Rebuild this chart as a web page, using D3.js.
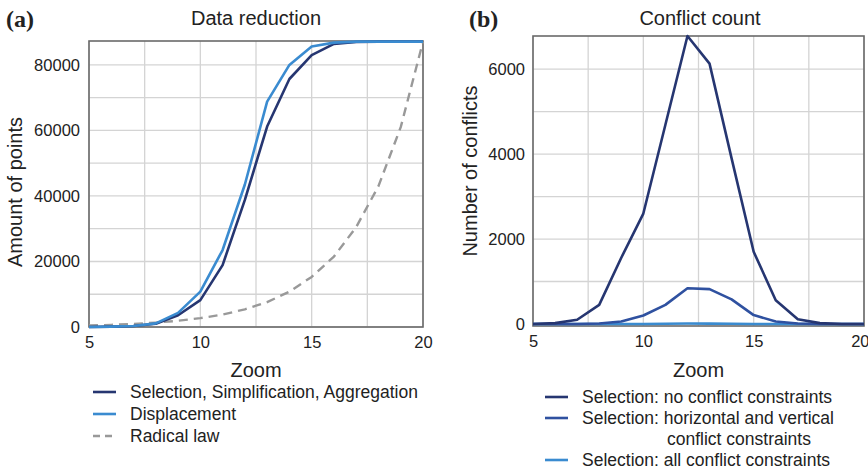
<!DOCTYPE html>
<html>
<head>
<meta charset="utf-8">
<script src="https://cdn.jsdelivr.net/npm/d3@7"></script>
<style>
  body { margin: 0; background: #fff; }
  svg { display: block; font-family: "Liberation Sans", Arial, sans-serif; }
</style>
</head>
<body>
<svg width="868" height="469"></svg>
<script>
// zoom levels shared by both panels
const zoomLevels = [5, 6, 7, 8, 9, 10, 11, 12, 13, 14, 15, 16, 17, 18, 19, 20];

// (a) data reduction - amount of points per zoom level
const selectionPoints = [0, 100, 300, 1000, 3600, 8200, 18900, 38800, 61200, 75700, 83000, 86400, 87000, 87100, 87100, 87100];
const displacementPoints = [0, 100, 300, 1100, 4300, 10800, 23500, 43500, 68800, 80000, 85600, 86800, 87100, 87100, 87100, 87100];
const radicalLawPoints = [450, 650, 950, 1350, 1900, 2700, 3800, 5400, 7600, 10800, 15300, 21500, 30500, 43000, 61000, 87100];

// (b) conflict count per zoom level
const noConstraints = [0, 20, 100, 450, 1560, 2600, 4690, 6780, 6130, 3900, 1700, 560, 110, 20, 0, 0];
const hvConstraints = [0, 0, 0, 10, 60, 200, 450, 840, 820, 580, 210, 60, 10, 0, 0, 0];
const allConstraints = [0, 0, 0, 0, 0, 0, 5, 10, 10, 5, 0, 0, 0, 0, 0, 0];

const xTicks = [5, 10, 15, 20];
const yTicksA = [0, 20000, 40000, 60000, 80000];
const yTicksB = [0, 2000, 4000, 6000];

const navy = "#263671", midBlue = "#2f51a0", lightBlue = "#3a8bd0", grey = "#999";

let svg = d3.select("svg");

function panel(opts) {
    let g = svg.append("g");
    let x = d3.scaleLinear().domain([5, 20]).range([opts.left, opts.right]);
    let y = d3.scaleLinear().domain([0, opts.yMax]).range([opts.zeroY, opts.top]);

    // grid
    g.selectAll("line.vg").data(d3.range(5, 20.1, 2.5)).enter().append("line")
        .attr("x1", d => x(d)).attr("x2", d => x(d))
        .attr("y1", opts.top).attr("y2", opts.bottom)
        .attr("stroke", "#d4d4d4").attr("stroke-width", 1.3);
    g.selectAll("line.hg").data(d3.range(0, opts.yMax, opts.gridStep)).enter().append("line")
        .attr("x1", opts.left).attr("x2", opts.right)
        .attr("y1", d => y(d)).attr("y2", d => y(d))
        .attr("stroke", "#d4d4d4").attr("stroke-width", 1.3);

    // frame
    g.append("rect")
        .attr("x", opts.left).attr("y", opts.top)
        .attr("width", opts.right - opts.left).attr("height", opts.bottom - opts.top)
        .attr("fill", "none").attr("stroke", "#6a6a6a").attr("stroke-width", 1.6);

    // axes (labels only, no tick marks)
    let xAxis = g.append("g").attr("transform", "translate(0," + opts.bottom + ")")
        .call(d3.axisBottom(x).tickValues(xTicks).tickSize(0).tickPadding(9).tickFormat(d3.format("d")));
    xAxis.select(".domain").remove();
    xAxis.selectAll("text").attr("font-size", 16.5).attr("fill", "#222").attr("font-family", null);
    if (opts.clipLast) {
        // last label sits against the page edge
        xAxis.selectAll("text").filter(d => d == 20).attr("text-anchor", "end").attr("dx", 5);
    }

    let yAxis = g.append("g").attr("transform", "translate(" + opts.left + ",0)")
        .call(d3.axisLeft(y).tickValues(opts.yTicks).tickSize(0).tickPadding(opts.yPad).tickFormat(d3.format("d")));
    yAxis.select(".domain").remove();
    yAxis.selectAll("text").attr("font-size", 16.5).attr("fill", "#222").attr("font-family", null);

    // lines
    let line = d3.line().x((d, i) => x(zoomLevels[i])).y(d => y(d));
    opts.series.forEach(s => {
        g.append("path").datum(s.values)
            .attr("d", line)
            .attr("fill", "none")
            .attr("stroke", s.color)
            .attr("stroke-width", s.width || 2.6)
            .attr("stroke-dasharray", s.dash || null)
            .attr("stroke-linejoin", "round");
    });

    // titles and labels
    g.append("text").attr("x", opts.titleX).attr("y", 25)
        .attr("text-anchor", "middle").attr("font-size", 20).attr("fill", "#222").text(opts.title);
    g.append("text").attr("x", opts.tagX).attr("y", 27)
        .attr("font-family", "'Liberation Serif', 'DejaVu Serif', serif").attr("font-weight", "bold")
        .attr("font-size", 24).attr("fill", "#222").text(opts.tag);
    g.append("text").attr("x", (opts.left + opts.right) / 2).attr("y", 377)
        .attr("text-anchor", "middle").attr("font-size", 20).attr("fill", "#222").text("Zoom");
    g.append("text")
        .attr("transform", "translate(" + opts.yLabelX + "," + opts.yLabelY + ") rotate(-90)")
        .attr("text-anchor", "middle").attr("font-size", 20).attr("fill", "#222").text(opts.yLabel);

    // legend
    let lg = g.append("g");
    opts.legend.forEach(item => {
        lg.append("line")
            .attr("x1", opts.legX).attr("x2", opts.legX + 23)
            .attr("y1", item.y).attr("y2", item.y)
            .attr("stroke", item.color).attr("stroke-width", 2.6)
            .attr("stroke-dasharray", item.dash || null);
        item.lines.forEach((t, k) => {
            lg.append("text")
                .attr("x", k == 0 ? opts.legX + 37 : opts.contX)
                .attr("y", item.y + k * 21)
                .attr("dy", "0.35em")
                .attr("font-size", 17.5).attr("fill", "#222").text(t);
        });
    });
}

panel({
    left: 89, right: 423, top: 41, bottom: 327, zeroY: 327,
    yMax: 87300, gridStep: 10000, yTicks: yTicksA, yPad: 9,
    title: "Data reduction", titleX: 256, tag: "(a)", tagX: 6,
    yLabel: "Amount of points", yLabelX: 22, yLabelY: 192,
    series: [
        { values: radicalLawPoints, color: grey, dash: "9,6", width: 2.4 },
        { values: selectionPoints, color: navy },
        { values: displacementPoints, color: lightBlue }
    ],
    legX: 93, contX: 0,
    legend: [
        { y: 392, color: navy, lines: ["Selection, Simplification, Aggregation"] },
        { y: 414, color: lightBlue, lines: ["Displacement"] },
        { y: 436, color: grey, dash: "7,5", lines: ["Radical law"] }
    ]
});

panel({
    left: 533, right: 864, top: 36, bottom: 326, zeroY: 324,
    yMax: 6780, gridStep: 1000, yTicks: yTicksB, yPad: 8,
    title: "Conflict count", titleX: 700, tag: "(b)", tagX: 469,
    yLabel: "Number of conflicts", yLabelX: 477, yLabelY: 171,
    clipLast: true,
    series: [
        { values: allConstraints, color: lightBlue },
        { values: hvConstraints, color: midBlue },
        { values: noConstraints, color: navy }
    ],
    legX: 545, contX: 667,
    legend: [
        { y: 397, color: navy, lines: ["Selection: no conflict constraints"] },
        { y: 418, color: midBlue, lines: ["Selection: horizontal and vertical", "conflict constraints"] },
        { y: 460, color: lightBlue, lines: ["Selection: all conflict constraints"] }
    ]
});
</script>
</body>
</html>
